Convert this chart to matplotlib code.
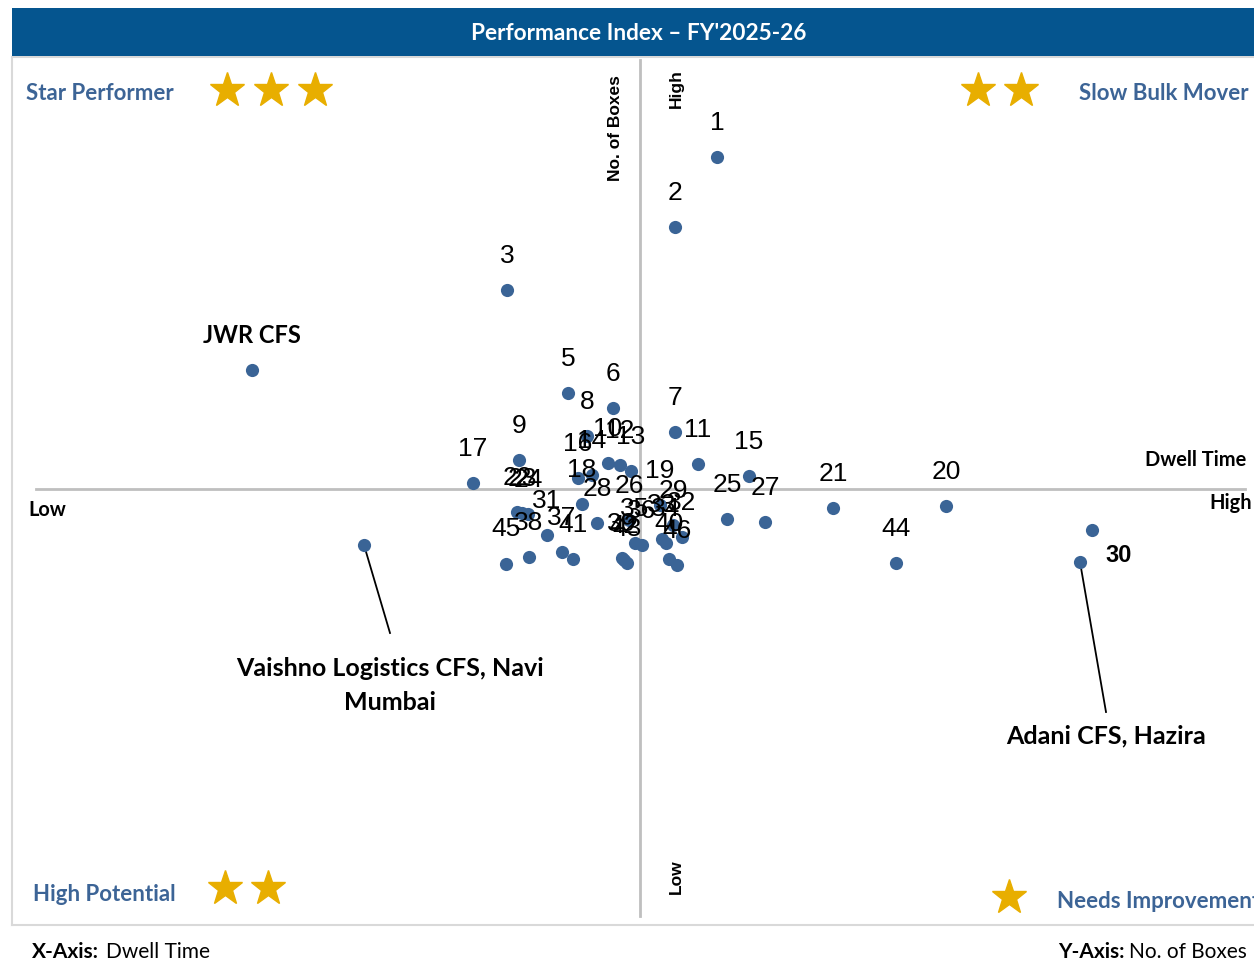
# Performance index quadrant chart: dwell time vs number of boxes per CFS

import matplotlib.pyplot as plt
from matplotlib.patches import Rectangle

# Point id, dwell time (days), boxes handled
ids = list(range(1, 47))
ids.remove(4)
dwell = [7.77, 7.35, 5.67, 6.28, 6.73, 7.35, 6.47, 5.79, 6.68,
         7.58, 6.80, 6.91, 6.52, 8.09, 6.38, 5.33, 6.42, 7.20, 10.06,
         8.93, 5.77, 5.82, 5.88, 7.87, 6.89, 8.25, 6.57, 7.33, 11.52,
         6.07, 7.42, 7.22, 7.26, 6.95, 7.02, 6.22, 5.89, 6.82, 7.29,
         6.33, 6.84, 6.87, 9.56, 5.66, 7.37]
boxes = [16640, 15240, 13980, 11920, 11620, 11140, 11060, 10580, 10520,
         10500, 10480, 10360, 10280, 10260, 10220, 10120, 9690, 9680, 9660,
         9620, 9530, 9520, 9500, 9400, 9380, 9340, 9320, 9280, 9180,
         9080, 9040, 9000, 8920, 8910, 8880, 8740, 8640, 8620, 8610,
         8600, 8580, 8520, 8515, 8510, 8480]

# Named terminals
named = ['JWR CFS', 'Vaishno Logistics CFS, Navi\nMumbai', 'Adani CFS, Hazira']
named_dwell = [3.12, 4.24, 11.40]
named_boxes = [12380, 8880, 8540]

X_MID, Y_MID = 7.0, 10000

W, H = 1254, 963
BLUE = '#05558F'
DOT = '#3A6496'
QUAD = '#3C6496'
GOLD = '#E8AE00'
LINE = '#BFBFBF'


def fx(px):
    return px / W


def fy(py):
    return 1 - py / H


fig = plt.figure(figsize=(W / 100, H / 100), dpi=100)
ax = fig.add_axes([fx(12), fy(925), (1268 - 12) / W, (925 - 57) / H])
ax.set_xlim(0.72, 13.28)
ax.set_ylim(1280, 18640)
ax.set_xticks([])
ax.set_yticks([])
for s in ax.spines.values():
    s.set_color('#D9D9D9')
    s.set_linewidth(1.5)

# quadrant dividers
ax.plot([0.96, 13.05], [Y_MID, Y_MID], color=LINE, lw=2, zorder=1)
ax.plot([X_MID, X_MID], [1460, 18580], color=LINE, lw=2, zorder=1)

ax.scatter(dwell, boxes, s=90, color=DOT, zorder=3, linewidths=0)
ax.scatter(named_dwell, named_boxes, s=90, color=DOT, zorder=3, linewidths=0)

for n, x, y in zip(ids, dwell, boxes):
    if n == 30:
        ax.annotate('30', (x, y), xytext=(19, -18), textcoords='offset points',
                    ha='center', va='center', fontsize=17, fontweight='bold',
                    family='Liberation Sans')
    else:
        ax.annotate(str(n), (x, y), xytext=(0, 24.5), textcoords='offset points',
                    ha='center', va='center', fontsize=19, family='Liberation Sans')

# named labels
ax.annotate(named[0], (named_dwell[0], named_boxes[0]), xytext=(0, 25),
            textcoords='offset points', ha='center', va='center',
            fontsize=17, fontweight='bold', family='Lato')
ax.plot([named_dwell[1], 4.50], [named_boxes[1], 7120], color='black', lw=1.3)
ax.text(4.50, 6640, named[1], ha='center', va='top', fontsize=18,
        fontweight='bold', family='Lato', linespacing=1.6)
ax.plot([named_dwell[2], 11.66], [named_boxes[2], 5540], color='black', lw=1.3)
ax.text(11.66, 5300, named[2], ha='center', va='top', fontsize=18,
        fontweight='bold', family='Lato')

# title bar
fig.add_artist(Rectangle((fx(12), fy(56)), (1254 - 12) / W, 48 / H,
                         transform=fig.transFigure, color=BLUE, lw=0))
fig.text(fx(639), fy(33), "Performance Index \u2013 FY'2025-26", color='white',
         ha='center', va='center', fontsize=16.3, fontweight='bold', family='Lato')

# quadrant names and stars
qkw = dict(color=QUAD, fontsize=16, fontweight='bold', family='Lato', va='center')
fig.text(fx(26), fy(93), 'Star Performer', ha='left', **qkw)
fig.text(fx(1249), fy(93), 'Slow Bulk Mover', ha='right', **qkw)
fig.text(fx(33), fy(894), 'High Potential', ha='left', **qkw)
fig.text(fx(1057), fy(901), 'Needs Improvement', ha='left', **qkw)

star_px = [(227, 90), (271, 90), (315, 90), (978, 90), (1021, 90),
           (225, 888), (268, 888), (1009, 897)]
for sx, sy in star_px:
    fig.add_artist(plt.Line2D([fx(sx)], [fy(sy)], marker='*', markersize=26,
                              color=GOLD, transform=fig.transFigure, lw=0))

# axis captions
bkw = dict(fontweight='bold', family='Liberation Sans', color='black')
fig.text(fx(616), fy(128), 'No. of Boxes', rotation=90, ha='center', va='center',
         fontsize=12.5, **bkw)
fig.text(fx(676), fy(89), 'High', rotation=90, ha='center', va='center',
         fontsize=12.5, **bkw)
fig.text(fx(676), fy(877), 'Low', rotation=90, ha='center', va='center',
         fontsize=12.5, **bkw)

ckw = dict(fontweight='bold', family='Lato', color='black', va='center')
fig.text(fx(1246), fy(460), 'Dwell Time', ha='right', fontsize=14.4, **ckw)
fig.text(fx(1252), fy(503), 'High', ha='right', fontsize=14.4, **ckw)
fig.text(fx(28), fy(510), 'Low', ha='left', fontsize=14.4, **ckw)

# footer
fig.text(fx(32), fy(952), 'X-Axis:', ha='left', fontsize=15, **ckw)
fig.text(fx(106), fy(952), 'Dwell Time', ha='left', fontsize=15,
         family='Lato', va='center')
fig.text(fx(1125), fy(952), 'Y-Axis:', ha='right', fontsize=15, **ckw)
fig.text(fx(1129), fy(952), 'No. of Boxes', ha='left', fontsize=15,
         family='Lato', va='center')

fig.savefig('out.png', dpi=100)
